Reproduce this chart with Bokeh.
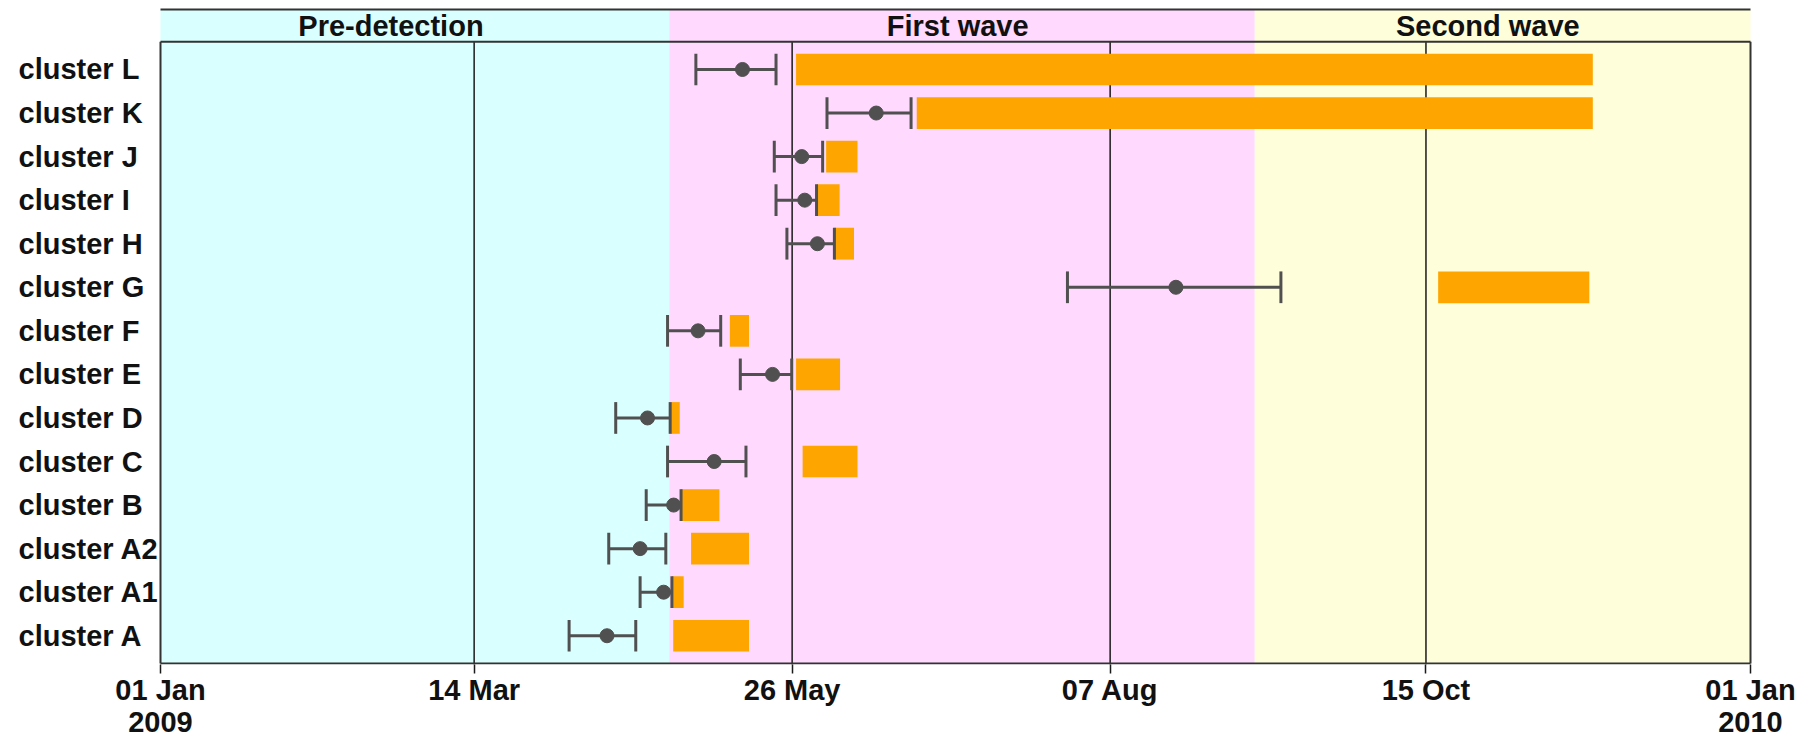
import numpy as np
from bokeh.plotting import figure
from bokeh.models import ColumnDataSource, FixedTicker, Range1d
from bokeh.core.properties import value
from bokeh.embed import file_html
from bokeh.resources import INLINE

# ---------------- data (days since 01 Jan 2009) ----------------
clusters = ["cluster A", "cluster A1", "cluster A2", "cluster B", "cluster C",
            "cluster D", "cluster E", "cluster F", "cluster G", "cluster H",
            "cluster I", "cluster J", "cluster K", "cluster L"]
tmrca_lo = [93.8, 110.1, 102.9, 111.5, 116.4, 104.5, 133.1, 116.4, 208.2, 143.8, 141.3, 140.9, 153.0, 122.9]
tmrca_mid = [102.5, 115.5, 110.1, 117.8, 127.1, 111.8, 140.5, 123.4, 233.1, 150.8, 147.9, 147.2, 164.3, 133.6]
tmrca_hi = [109.1, 117.4, 116.0, 119.5, 134.4, 117.0, 144.9, 128.6, 257.2, 154.7, 150.6, 152.0, 172.3, 141.3]
sample_start = [117.7, 117.4, 121.8, 119.5, 147.4, 117.2, 145.9, 130.7, 293.3, 154.7, 150.6, 152.8, 173.6, 145.9]
sample_end = [135.1, 120.1, 135.1, 128.3, 160.0, 119.2, 156.0, 135.1, 328.0, 159.2, 155.9, 160.0, 328.8, 328.8]

periods = ["Pre-detection", "First wave", "Second wave"]
period_start = [0, 116.8, 251.2]
period_end = [116.8, 251.2, 365]
period_label_x = [52.9, 183.0, 304.7]

tick_days = [0, 72, 145, 218, 290.5, 365]
tick_labels = ["01 Jan\n2009", "14 Mar", "26 May", "07 Aug", "15 Oct", "01 Jan\n2010"]

# ---------------- styles / geometry ----------------
period_colors = ["#D9FFFF", "#FFD9FE", "#FFFEDA"]
bar_color = "#FFA500"
err_color = "#505050"
border_color = "#333333"
FONT = "Liberation Sans"
FS = "29px"

W, H = 1798, 741
LEFT_PX = 160          # canvas x of the plot's left border
PLOT_W = 1590          # pixel width of the date span
RIGHT_PAD = 2          # px of frame beyond the right border
TOP_BORDER = 7         # canvas y where the frame starts
TOP_PAD, BOT_PAD = 2, 1
BOTTOM_BORDER = 77
FRAME_H = H - TOP_BORDER - BOTTOM_BORDER

n = len(clusters)
rows = list(range(n))
row_pad = 0.637
header_h = 0.74
y0 = -row_pad
y_top = (n - 1) + row_pad
y_max = y_top + header_h
bar_h = 0.728

x_span = period_end[-1] - period_start[0]
ppd = PLOT_W / x_span
ppu = (FRAME_H - TOP_PAD - BOT_PAD) / (y_max - y0)

p = figure(width=W, height=H,
           x_range=Range1d(-LEFT_PX / ppd, x_span + RIGHT_PAD / ppd),
           y_range=Range1d(y0 - BOT_PAD / ppu, y_max + TOP_PAD / ppu),
           output_backend="svg", toolbar_location=None,
           min_border_left=0, min_border_right=W - LEFT_PX - PLOT_W - RIGHT_PAD,
           min_border_top=TOP_BORDER, min_border_bottom=BOTTOM_BORDER)

p.xgrid.visible = False
p.ygrid.visible = False
p.yaxis.visible = False
p.outline_line_color = None
p.background_fill_color = "white"
p.border_fill_color = "white"

# period bands (plot + header)
p.quad(left=period_start, right=period_end, bottom=y0, top=y_max,
       fill_color=period_colors, line_color=None)

# header labels
p.text(x=period_label_x, y=[y_top + 0.5 * header_h] * len(periods), text=periods,
       text_font=value(FONT), text_font_size=FS, text_font_style="bold",
       text_color="#111111", text_align="center", text_baseline="middle")

# vertical grid lines at interior ticks (reach down to the tick marks)
inner = tick_days[1:-1]
p.segment(x0=inner, y0=[y0 - BOT_PAD / ppu] * len(inner), x1=inner, y1=[y_top] * len(inner),
          line_color="#1a1a1a", line_width=1.5)

# plot borders: top of header, header separator, bottom, left, right
p.segment(x0=[0, 0, 0, 0, x_span], y0=[y_max, y_top, y0, y0, y0],
          x1=[x_span, x_span, x_span, 0, x_span], y1=[y_max, y_top, y0, y_top, y_top],
          line_color=border_color, line_width=2)

src = ColumnDataSource(dict(y=rows, name=clusters, lo=tmrca_lo, mid=tmrca_mid,
                            hi=tmrca_hi, s=sample_start, e=sample_end,
                            yb=[r - bar_h / 2 for r in rows],
                            yt=[r + bar_h / 2 for r in rows]))

# sampling bars
p.hbar(y="y", left="s", right="e", height=bar_h, source=src,
       fill_color=bar_color, line_color=None)

# error bars
p.segment(x0="lo", y0="y", x1="hi", y1="y", source=src, line_color=err_color, line_width=3)
p.segment(x0="lo", y0="yb", x1="lo", y1="yt", source=src, line_color=err_color, line_width=3)
p.segment(x0="hi", y0="yb", x1="hi", y1="yt", source=src, line_color=err_color, line_width=3)
p.scatter(x="mid", y="y", source=src, size=14, fill_color=err_color, line_color=err_color)

# cluster labels, left aligned in the label column
p.text(x=0, y="y", text="name", source=src, x_offset=-(LEFT_PX - 18),
       text_font=value(FONT), text_font_size=FS, text_font_style="bold",
       text_color="#111111", text_align="left", text_baseline="alphabetic")

# x axis
ax = p.xaxis[0]
ax.ticker = FixedTicker(ticks=tick_days)
ax.major_label_overrides = {t: l for t, l in zip(tick_days, tick_labels)}
ax.axis_line_color = None
ax.major_tick_line_color = "#1a1a1a"
ax.major_tick_line_width = 1.5
ax.major_tick_out = 9
ax.major_tick_in = 0
ax.minor_tick_out = 0
ax.minor_tick_in = 0
ax.major_label_standoff = 0
ax.major_label_text_font = FONT
ax.major_label_text_font_size = FS
ax.major_label_text_font_style = "bold"
ax.major_label_text_color = "#111111"
ax.major_label_text_line_height = 1.0

open("out.html", "w").write(file_html(p, INLINE))
